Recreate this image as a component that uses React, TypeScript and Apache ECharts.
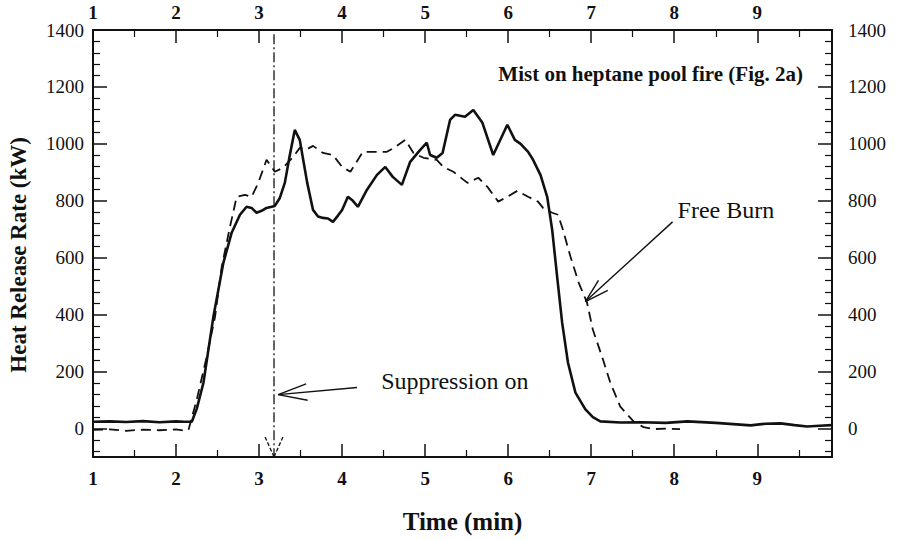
import React, { useEffect, useRef } from "react";
import * as echarts from "echarts";

// Mist suppression test (solid)
const mistTime = [1.0, 1.2, 1.4, 1.6, 1.8, 2.0, 2.1, 2.19, 2.25, 2.33, 2.45, 2.57, 2.67, 2.77, 2.85, 2.91, 2.97, 3.03, 3.09, 3.19, 3.25, 3.31, 3.37, 3.43, 3.49, 3.54, 3.58, 3.65, 3.71, 3.77, 3.83, 3.89, 3.95, 4.0, 4.07, 4.13, 4.19, 4.3, 4.42, 4.52, 4.61, 4.72, 4.82, 4.92, 5.02, 5.06, 5.14, 5.21, 5.3, 5.36, 5.48, 5.58, 5.69, 5.82, 5.99, 6.08, 6.15, 6.24, 6.3, 6.39, 6.47, 6.53, 6.59, 6.65, 6.72, 6.81, 6.93, 7.02, 7.11, 7.35, 7.6, 7.9, 8.16, 8.5, 8.92, 9.1, 9.28, 9.45, 9.6, 9.75, 9.9];
const mistHRR = [24, 25, 23, 26, 22, 25, 24, 24, 70, 161, 393, 582, 688, 751, 779, 775, 758, 765, 775, 782, 810, 863, 960, 1049, 1014, 930, 863, 768, 745, 740, 738, 726, 748, 768, 814, 800, 779, 839, 891, 919, 884, 856, 937, 972, 1004, 961, 951, 968, 1084, 1102, 1095, 1119, 1074, 961, 1067, 1014, 1000, 972, 944, 890, 814, 698, 533, 372, 232, 126, 67, 40, 25, 21, 22, 20, 25, 20, 11, 17, 18, 12, 7, 10, 12];

// Free burn (dashed)
const freeTime = [1.0, 1.2, 1.4, 1.6, 1.8, 2.0, 2.1, 2.15, 2.25, 2.37, 2.47, 2.55, 2.65, 2.73, 2.83, 2.91, 2.99, 3.09, 3.19, 3.29, 3.41, 3.49, 3.57, 3.65, 3.77, 3.89, 4.0, 4.1, 4.25, 4.37, 4.54, 4.64, 4.76, 4.86, 4.98, 5.14, 5.22, 5.34, 5.51, 5.64, 5.75, 5.88, 5.99, 6.11, 6.24, 6.36, 6.42, 6.53, 6.6, 6.66, 6.75, 6.85, 6.95, 7.02, 7.13, 7.23, 7.35, 7.51, 7.63, 7.75, 7.9, 8.07];
const freeHRR = [-5, -3, -8, -4, -6, -3, -7, -5, 102, 253, 393, 568, 709, 814, 821, 814, 863, 944, 902, 916, 954, 986, 980, 993, 968, 961, 919, 902, 972, 972, 972, 989, 1014, 968, 951, 944, 919, 902, 863, 881, 849, 797, 814, 835, 814, 797, 775, 758, 751, 698, 604, 512, 442, 347, 253, 161, 77, 25, 5, -2, 0, -2];

const suppressionTime = 3.18;
const suppressionTop = 1385;

const xMin = 1;
const xMax = 9.9;
const yMin = -100;
const yMax = 1400;

const titleText = "Mist on heptane pool fire (Fig. 2a)";
const yTitle = "Heat Release Rate (kW)";
const xTitle = "Time (min)";
const suppressionLabel = "Suppression on";
const freeBurnLabel = "Free Burn";

const FONT = '"Liberation Serif", "Times New Roman", Times, serif';
const INK = "#111";

export default function App() {
  const ref = useRef<HTMLDivElement>(null);

  useEffect(() => {
    const chart = echarts.init(ref.current!, null, { renderer: "svg" });

    const xAxisBase = (position: "bottom" | "top", showName: boolean) => ({
      type: "value",
      position,
      min: xMin,
      max: xMax,
      interval: 1,
      name: showName ? xTitle : "",
      nameLocation: "middle",
      nameGap: 52,
      nameTextStyle: { fontFamily: FONT, fontWeight: "bold", fontSize: 25, color: INK },
      axisLine: { show: true, onZero: false, lineStyle: { color: INK, width: 2 } },
      axisTick: { show: true, inside: true, length: 13, lineStyle: { color: INK, width: 1.5 } },
      minorTick: { show: true, splitNumber: 2, length: 7, lineStyle: { color: INK, width: 1.2 } },
      splitLine: { show: false },
      minorSplitLine: { show: false },
      axisLabel: {
        show: true,
        margin: position === "bottom" ? 12 : 8,
        fontFamily: FONT,
        fontWeight: "bold",
        fontSize: 19,
        color: INK,
        showMaxLabel: false,
        formatter: (v: number) => String(v),
      },
    });

    const yAxisBase = (position: "left" | "right") => ({
      type: "value",
      position,
      min: yMin,
      max: yMax,
      splitNumber: 7,
      axisLine: { show: true, onZero: false, lineStyle: { color: INK, width: 2 } },
      axisTick: { show: true, inside: true, length: 14, lineStyle: { color: INK, width: 1.5 } },
      minorTick: { show: true, splitNumber: 5, length: 7, lineStyle: { color: INK, width: 1.2 } },
      splitLine: { show: false },
      minorSplitLine: { show: false },
      axisLabel: {
        show: true,
        margin: position === "left" ? 9 : 16,
        fontFamily: FONT,
        fontSize: 19,
        color: INK,
        showMinLabel: false,
        formatter: (v: number) => String(v),
      },
    });

    chart.setOption({
      animation: false,
      backgroundColor: "#fff",
      textStyle: { fontFamily: FONT },
      title: {
        text: titleText,
        right: 92,
        top: 58,
        textStyle: { fontFamily: FONT, fontWeight: "bold", fontSize: 21, color: INK },
      },
      grid: { left: 93, right: 68, top: 30, bottom: 83, containLabel: false },
      xAxis: [xAxisBase("bottom", true), xAxisBase("top", false)],
      yAxis: [yAxisBase("left"), yAxisBase("right")],
      series: [
        {
          name: "Mist",
          type: "line",
          xAxisIndex: 0,
          yAxisIndex: 0,
          data: mistTime.map((t, i) => [t, mistHRR[i]]),
          showSymbol: false,
          symbol: "none",
          lineStyle: { color: INK, width: 2.6 },
          z: 5,
        },
        {
          name: "Free Burn",
          type: "line",
          xAxisIndex: 0,
          yAxisIndex: 0,
          data: freeTime.map((t, i) => [t, freeHRR[i]]),
          showSymbol: false,
          symbol: "none",
          lineStyle: { color: INK, width: 1.8, type: [10, 6] },
          z: 4,
        },
        {
          name: "Suppression",
          type: "line",
          xAxisIndex: 0,
          yAxisIndex: 0,
          data: [
            [suppressionTime, suppressionTop],
            [suppressionTime, yMin],
          ],
          showSymbol: false,
          symbol: "none",
          lineStyle: { color: INK, width: 1.3, type: [10, 3, 2, 3] },
          z: 3,
        },
      ],
    });

    const px = (t: number, v: number) =>
      chart.convertToPixel({ xAxisIndex: 0, yAxisIndex: 0 }, [t, v]) as number[];

    const arrow = (
      tail: number[],
      tip: number[],
      len: number,
      halfDeg: number,
      width: number,
      dashed: boolean,
      drawShaft: boolean
    ) => {
      const ang = Math.atan2(tail[1] - tip[1], tail[0] - tip[0]);
      const h = (halfDeg * Math.PI) / 180;
      const style: any = { stroke: INK, lineWidth: width, fill: null };
      if (dashed) style.lineDash = [4, 2];
      const els: any[] = [];
      if (drawShaft) {
        els.push({
          type: "line",
          shape: { x1: tail[0], y1: tail[1], x2: tip[0], y2: tip[1] },
          style: { stroke: INK, lineWidth: width },
          z: 10,
        });
      }
      [ang + h, ang - h].forEach((a) => {
        els.push({
          type: "line",
          shape: {
            x1: tip[0],
            y1: tip[1],
            x2: tip[0] + len * Math.cos(a),
            y2: tip[1] + len * Math.sin(a),
          },
          style,
          z: 10,
        });
      });
      return els;
    };

    const supTail = px(4.18, 144);
    const supTip = px(3.23, 119);
    const fbTail = px(7.98, 726);
    const fbTip = px(6.93, 446);
    const vTip = px(suppressionTime, yMin);
    const vTail = px(suppressionTime, 200);
    const supText = px(4.47, 168);
    const fbText = px(8.04, 768);
    const yTitlePos = px(xMin, 610);

    chart.setOption({
      graphic: [
        ...arrow(supTail, supTip, 30, 16, 1.4, false, true),
        ...arrow(fbTail, fbTip, 25, 16, 1.4, false, true),
        ...arrow(vTail, vTip, 22, 24, 1.3, true, false),
        {
          type: "text",
          x: yTitlePos[0] - 75,
          y: yTitlePos[1],
          rotation: Math.PI / 2,
          style: {
            text: yTitle,
            font: `bold 23px ${FONT}`,
            fill: INK,
            textAlign: "center",
            textVerticalAlign: "middle",
          },
          z: 10,
        },
        {
          type: "text",
          x: supText[0],
          y: supText[1],
          style: {
            text: suppressionLabel,
            font: `24px ${FONT}`,
            fill: INK,
            textAlign: "left",
            textVerticalAlign: "middle",
          },
          z: 10,
        },
        {
          type: "text",
          x: fbText[0],
          y: fbText[1],
          style: {
            text: freeBurnLabel,
            font: `24px ${FONT}`,
            fill: INK,
            textAlign: "left",
            textVerticalAlign: "middle",
          },
          z: 10,
        },
      ],
    });

    return () => chart.dispose();
  }, []);

  return (
    <div
      ref={ref}
      style={{ position: "fixed", left: 0, top: 0, width: 900, height: 540, background: "#fff" }}
    />
  );
}
